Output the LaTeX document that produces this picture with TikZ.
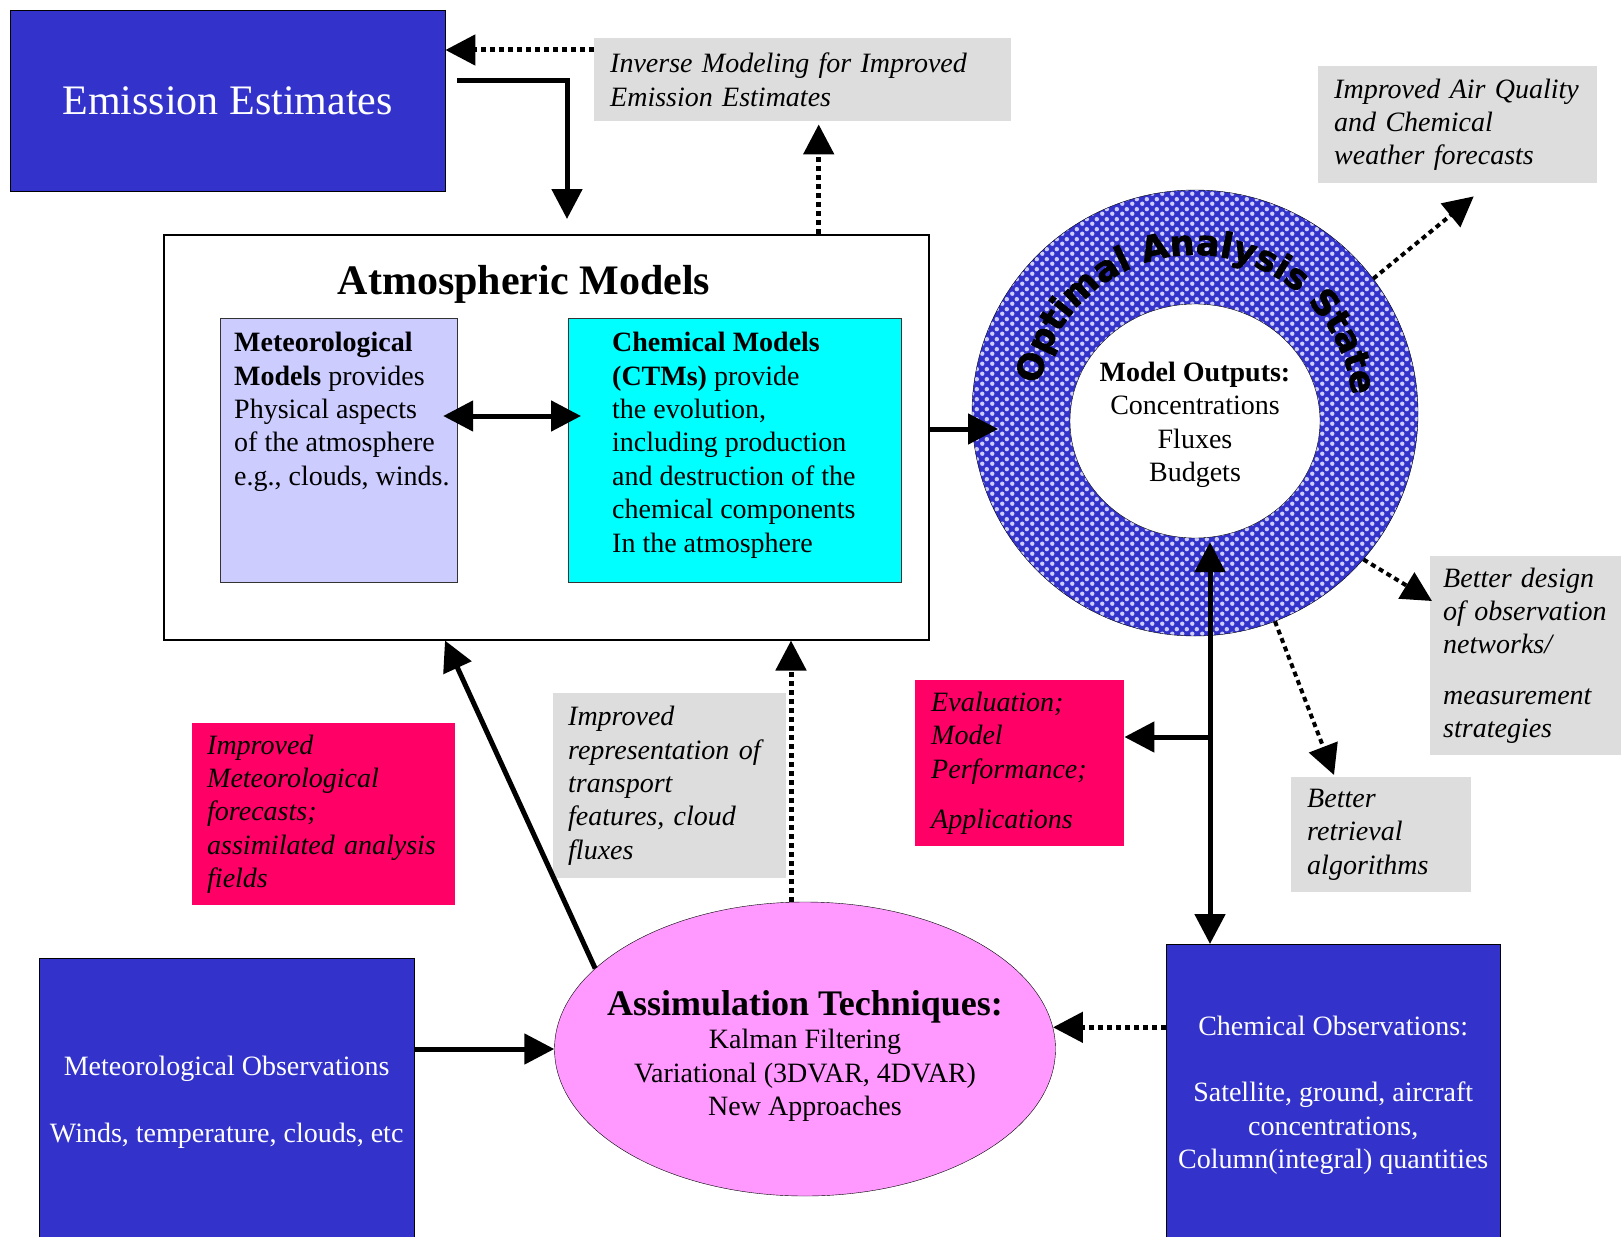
\documentclass[tikz,border=0pt]{standalone}
\usepackage{fontspec}
\setmainfont{Liberation Serif}
\newfontfamily\ringfont{DejaVu Sans}[BoldFeatures={FakeBold=1.8}]
\usetikzlibrary{calc}
\usetikzlibrary{arrows.meta}
\usetikzlibrary{positioning}
\usetikzlibrary{shapes.geometric}
\usetikzlibrary{decorations.text}
\usetikzlibrary{patterns.meta}

\definecolor{obsblue}{RGB}{51,51,204}
\definecolor{impred}{RGB}{255,0,102}
\definecolor{notegray}{RGB}{221,221,221}
\definecolor{metlav}{RGB}{204,204,255}
\definecolor{chemcyan}{RGB}{0,255,255}
\definecolor{assimpink}{RGB}{255,153,255}

\newcommand{\notesize}{\fontsize{28}{33.4}\selectfont}

\tikzdeclarepattern{
  name=ringdots,
  type=uncolored,
  bounding box={(0pt,0pt) and (10pt,10pt)},
  tile size={(10pt,10pt)},
  code={
    \fill (2.5pt,2.5pt) circle (2.4pt);
    \fill (7.5pt,7.5pt) circle (2.4pt);
  }
}

\begin{document}
\begin{tikzpicture}[x=1pt, y=1pt]
      \tikzset{
         bigtip/.tip = {Triangle[length=30pt, width=30pt]},
         obsbox/.style = {
            rectangle, draw=black,
            fill=obsblue, text=white,
            anchor=north west, align=center,
            font=\notesize
         },
         notebox/.style = {
            rectangle, fill=notegray,
            anchor=north west, align=left,
            inner xsep=16pt,
            font=\notesize\itshape
         },
         redbox/.style = {notebox, fill=impred},
         modelbox/.style = {
            rectangle, draw=black!80, line width=1.2pt,
            anchor=north west, minimum height=264pt
         },
         modeltext/.style = {anchor=north west, align=left, inner sep=0pt, font=\notesize},
         solidarrow/.style = {line width=5pt, -bigtip},
         dblarrow/.style = {line width=5pt, bigtip-bigtip},
         dotarrow/.style = {solidarrow, dash pattern=on 5pt off 4pt}
      }
      \useasboundingbox (0,0) rectangle (1621,-1236) ;

      \node[obsbox, minimum width=435pt, minimum height=181pt, font=\fontsize{42}{50}\selectfont] (emission) at (10,-10) {Emission Estimates} ;
      \node[notebox, text width=385pt, minimum height=83pt] (inverseMod) at (594,-38) {Inverse Modeling for Improved\\Emission Estimates} ;
      \node[notebox, text width=247pt, minimum height=117pt] (airQuality) at (1318,-66) {Improved Air Quality\\and Chemical\\weather forecasts} ;

      % atmospheric models
      \node[rectangle, draw, line width=1.5pt, anchor=north west, minimum width=765pt, minimum height=405pt] (atmModels) at (163,-234) {} ;
      \node[font=\fontsize{42}{50}\selectfont\bfseries] (atmTitle) at (524,-284) {Atmospheric Models} ;
      \node[modelbox, fill=metlav, minimum width=237pt] (metModels) at (220,-318) {} ;
      \node[modeltext] (metText) at (234,-332) {\textbf{Meteorological}\\\textbf{Models} provides\\Physical aspects\\of the atmosphere\\e.g., clouds, winds.} ;
      \node[modelbox, fill=chemcyan, minimum width=333pt] (chemModels) at (568,-318) {} ;
      \node[modeltext] (chemText) at (612,-332) {\textbf{Chemical Models}\\\textbf{(CTMs)} provide\\the evolution,\\including production\\and destruction of the\\chemical components\\In the atmosphere} ;

      % optimal analysis state
      \node[circle, draw, minimum size=446pt, preaction={fill=obsblue}, pattern=ringdots, pattern color=metlav] (ring) at (1195,-413) {} ;
      \path[decorate, decoration={text along path, text align=center,
            text={|\ringfont\bfseries\fontsize{35}{35}\selectfont|Optimal Analysis State}}]
            ($(ring.center)+(170:158)$) arc[start angle=170, end angle=6, radius=158] ;
      \node[ellipse, draw, fill=white, minimum width=250pt, minimum height=234pt] (modelOut) at (1195,-421) {} ;
      \node[align=center, font=\notesize] (outText) at ([yshift=-4pt]modelOut.center) {\textbf{Model Outputs:}\\Concentrations\\Fluxes\\Budgets} ;

      \node[notebox, inner xsep=13pt, text width=165pt, minimum height=199pt] (betterDesign) at (1430,-556) {Better design\\of observation\\networks/\\[17pt]measurement\\strategies} ;
      \node[notebox, text width=148pt, minimum height=115pt] (betterRetrieval) at (1291,-777) {Better\\retrieval\\algorithms} ;
      \node[redbox, text width=177pt, minimum height=166pt] (evaluation) at (915,-680) {Evaluation;\\Model\\Performance;\\[17pt]Applications} ;
      \node[redbox, inner xsep=15pt, text width=233pt, minimum height=182pt] (impMet) at (192,-723) {Improved\\Meteorological\\forecasts;\\assimilated analysis\\fields} ;
      \node[notebox, inner xsep=15pt, text width=203pt, minimum height=185pt] (impTransport) at (553,-693) {Improved\\representation of\\transport\\features, cloud\\fluxes} ;

      % observations and assimilation
      \node[ellipse, draw, fill=assimpink, minimum width=501pt, minimum height=294pt] (assim) at (805,-1049) {} ;
      \node[align=center, font=\notesize] (assimText) at (805,-1056) {{\fontsize{36}{40}\selectfont\bfseries Assimulation Techniques:}\\Kalman Filtering\\Variational (3DVAR, 4DVAR)\\New Approaches} ;
      \node[obsbox, minimum width=375pt, minimum height=288pt] (metObs) at (39,-958) {Meteorological Observations\\[34pt]Winds, temperature, clouds, etc} ;
      \node[obsbox, minimum width=334pt, minimum height=302pt] (chemObs) at (1166,-944) {Chemical Observations:\\[33pt]Satellite, ground, aircraft\\concentrations,\\Column(integral) quantities} ;

      % connectors
      \coordinate (emisDrop) at (567,-219) ;
      \coordinate (invTail) at ([yshift=-12pt]inverseMod.north west) ;
      \coordinate (invFoot) at ([xshift=16pt, yshift=-3pt]inverseMod.south) ;
      \coordinate (ringIn) at (998,-429) ;
      \coordinate (trunk) at (1210,-737) ;
      \coordinate (transUp) at ([xshift=-14pt]assim.north) ;
      \draw [solidarrow] ([xshift=12pt, yshift=20pt]emission.east) -| (emisDrop) ;
      \draw [dotarrow] (invTail) -- (invTail -| emission.east) ;
      \draw [dotarrow] (atmModels.north -| invFoot) -- (invFoot) ;
      \draw [solidarrow] (atmModels.east |- ringIn) -- (ringIn) ;
      \draw [dblarrow] ([xshift=-15pt, yshift=-98pt]metModels.north east) -- ([xshift=13pt, yshift=-98pt]chemModels.north west) ;
      \draw [dotarrow, line width=4pt] (ring.37) -- ($(airQuality.south)+(16,-13)$) ;
      \draw [dotarrow, line width=4pt] (ring.-41) -- ($(betterDesign.north west)+(2,-45)$) ;
      \draw [dotarrow, line width=4pt] (ring.-69) -- ($(betterRetrieval.north west)+(43,2)$) ;
      \draw [dblarrow] ([yshift=-4pt]modelOut.south -| trunk) -- (chemObs.north -| trunk) ;
      \draw [solidarrow] (trunk) -- (trunk -| evaluation.east) ;
      \draw [dotarrow] (transUp) -- (transUp |- atmModels.south) ;
      \draw [solidarrow] (assim.159) -- ([xshift=282pt]atmModels.south west) ;
      \draw [solidarrow] (metObs.east |- assim.west) -- (assim.west) ;
      \draw [dotarrow] (assim.5 -| chemObs.west) -- (assim.5) ;
\end{tikzpicture}
\end{document}
